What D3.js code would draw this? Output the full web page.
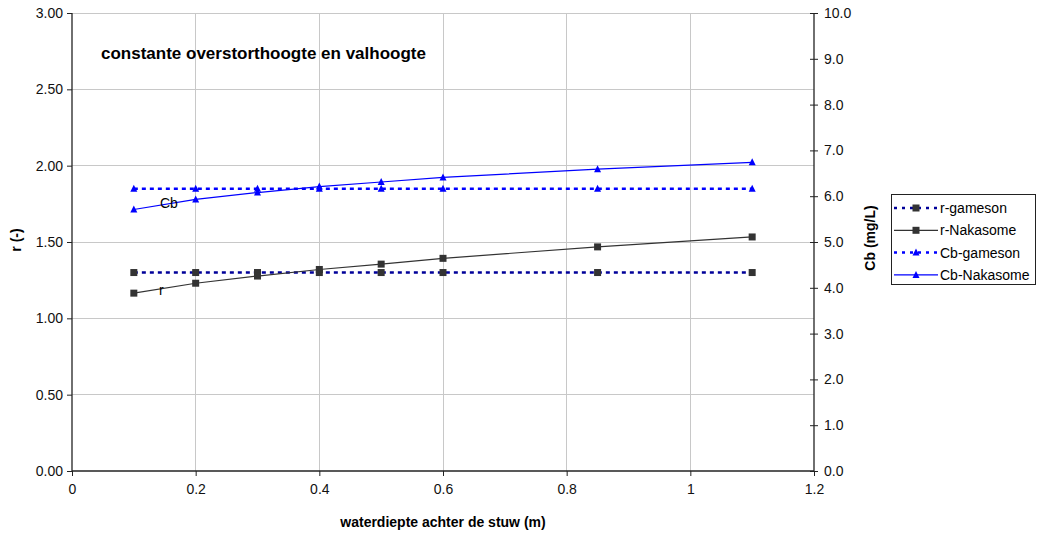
<!DOCTYPE html>
<html><head><meta charset="utf-8">
<script src="https://cdn.jsdelivr.net/npm/d3@7"></script>
<style>body{margin:0;background:#fff}svg{display:block;font-family:"Liberation Sans",Arial,sans-serif}</style>
</head><body><svg id="c" width="1040" height="534"></svg>
<script>
const xVals = [0.1, 0.2, 0.3, 0.4, 0.5, 0.6, 0.85, 1.1];
const rGameson = [1.30, 1.30, 1.30, 1.30, 1.30, 1.30, 1.30, 1.30];
const rNakasome = [1.165, 1.23, 1.277, 1.32, 1.355, 1.393, 1.468, 1.533];
const cbGameson = [6.16, 6.16, 6.16, 6.16, 6.16, 6.16, 6.16, 6.16];
const cbNakasome = [5.71, 5.93, 6.08, 6.21, 6.31, 6.41, 6.59, 6.74];
const xTicks = [0, 0.2, 0.4, 0.6, 0.8, 1, 1.2];
const yLeftTicks = [0, 0.5, 1, 1.5, 2, 2.5, 3];
const yRightTicks = [0,1,2,3,4,5,6,7,8,9,10];
const legendLabels = ["r-gameson", "r-Nakasome", "Cb-gameson", "Cb-Nakasome"];

const svg = d3.select("#c");
const L = 72, R = 814, T = 13, B = 471;
const x = d3.scaleLinear().domain([0, 1.2]).range([L, R]);
const yL = d3.scaleLinear().domain([0, 3]).range([B, T]);
const yR = d3.scaleLinear().domain([0, 10]).range([B, T]);
const FS = 14;

// grid
svg.append("g").selectAll("line").data(xTicks.slice(1, -1)).join("line")
  .attr("x1", d => x(d)).attr("x2", d => x(d)).attr("y1", T).attr("y2", B)
  .attr("stroke", "#c8c8c8").attr("stroke-width", 1).attr("shape-rendering", "crispEdges");
svg.append("g").selectAll("line").data(yLeftTicks.slice(1)).join("line")
  .attr("x1", L).attr("x2", R).attr("y1", d => yL(d)).attr("y2", d => yL(d))
  .attr("stroke", "#c8c8c8").attr("stroke-width", 1).attr("shape-rendering", "crispEdges");

// axes
const fmt2 = d3.format(".2f"), fmt1 = d3.format(".1f");
const gL = svg.append("g").attr("transform", `translate(${L},0)`)
  .call(d3.axisLeft(yL).tickValues(yLeftTicks).tickFormat(fmt2).tickSize(5).tickPadding(4));
const gB = svg.append("g").attr("transform", `translate(0,${B})`)
  .call(d3.axisBottom(x).tickValues(xTicks).tickFormat(d => d === 0 ? "0" : String(d)).tickSize(5).tickPadding(8));
const gR = svg.append("g").attr("transform", `translate(${R},0)`)
  .call(d3.axisRight(yR).tickValues(yRightTicks).tickFormat(fmt1).tickSize(4).tickPadding(6));
gR.selectAll(".tick line").attr("x1", -4);
[gL, gB, gR].forEach(g => {
  g.select(".domain").attr("stroke", "#222").attr("stroke-width", 1.3);
  g.selectAll(".tick line").attr("stroke", "#222");
  g.selectAll("text").attr("font-size", FS).attr("fill", "#111").attr("font-family", "Liberation Sans, Arial, sans-serif");
});
gL.select(".domain").attr("d", `M0,${T}V${B}`);
gR.select(".domain").attr("d", `M0,${T}V${B}`);
gB.select(".domain").attr("d", `M${L},0H${R}`);

// series
const series = [
  {vals: rGameson, y: yL, color: "#000099", dash: "4,4", w: 2.5, mark: "sq"},
  {vals: rNakasome, y: yL, color: "#333333", dash: null, w: 1.2, mark: "sq"},
  {vals: cbGameson, y: yR, color: "#0000ff", dash: "4,4", w: 2.5, mark: "tri"},
  {vals: cbNakasome, y: yR, color: "#0000ff", dash: null, w: 1.2, mark: "tri"}
];
const sqColor = "#333333";
series.forEach(s => {
  const pts = xVals.map((d, i) => [x(d), s.y(s.vals[i])]);
  svg.append("path").attr("d", d3.line()(pts)).attr("fill", "none")
    .attr("stroke", s.color).attr("stroke-width", s.w).attr("stroke-dasharray", s.dash);
  const g = svg.append("g");
  if (s.mark === "sq") {
    g.selectAll("rect").data(pts).join("rect")
      .attr("x", d => d[0] - 3.5).attr("y", d => d[1] - 3.5).attr("width", 7).attr("height", 7).attr("fill", sqColor);
  } else {
    g.selectAll("path").data(pts).join("path")
      .attr("d", d => `M${d[0]},${d[1]-4}L${d[0]+3.5},${d[1]+3}L${d[0]-3.5},${d[1]+3}Z`).attr("fill", "#0000ff");
  }
});

// labels
svg.append("text").attr("x", 101).attr("y", 59).attr("font-size", 17).attr("font-weight", "bold")
  .text("constante overstorthoogte en valhoogte");
svg.append("text").attr("x", 160).attr("y", 208).attr("font-size", FS).text("Cb");
svg.append("text").attr("x", 159).attr("y", 295).attr("font-size", FS).text("r");
svg.append("text").attr("x", 443).attr("y", 527).attr("text-anchor", "middle").attr("font-size", FS).attr("font-weight", "bold")
  .text("waterdiepte achter de stuw (m)");
svg.append("text").attr("transform", "translate(21,240) rotate(-90)").attr("text-anchor", "middle")
  .attr("font-size", FS).attr("font-weight", "bold").text("r (-)");
svg.append("text").attr("transform", "translate(875,238) rotate(-90)").attr("text-anchor", "middle")
  .attr("font-size", FS).attr("font-weight", "bold").text("Cb (mg/L)");

// legend
const lg = svg.append("g");
lg.append("rect").attr("x", 891.5).attr("y", 194.5).attr("width", 144).attr("height", 90)
  .attr("fill", "#fff").attr("stroke", "#222").attr("stroke-width", 1);
series.forEach((s, i) => {
  const yy = 208 + i * 22.3;
  lg.append("line").attr("x1", 894).attr("x2", 938).attr("y1", yy).attr("y2", yy)
    .attr("stroke", s.color).attr("stroke-width", s.w).attr("stroke-dasharray", s.dash ? "3,5" : null);
  if (s.mark === "sq") lg.append("rect").attr("x", 916 - 3.5).attr("y", yy - 3.5).attr("width", 7).attr("height", 7).attr("fill", sqColor);
  else lg.append("path").attr("d", `M916,${yy-4}L919.5,${yy+3}L912.5,${yy+3}Z`).attr("fill", "#0000ff");
  lg.append("text").attr("x", 940).attr("y", yy + 5).attr("font-size", FS).text(legendLabels[i]);
});
</script></body></html>
